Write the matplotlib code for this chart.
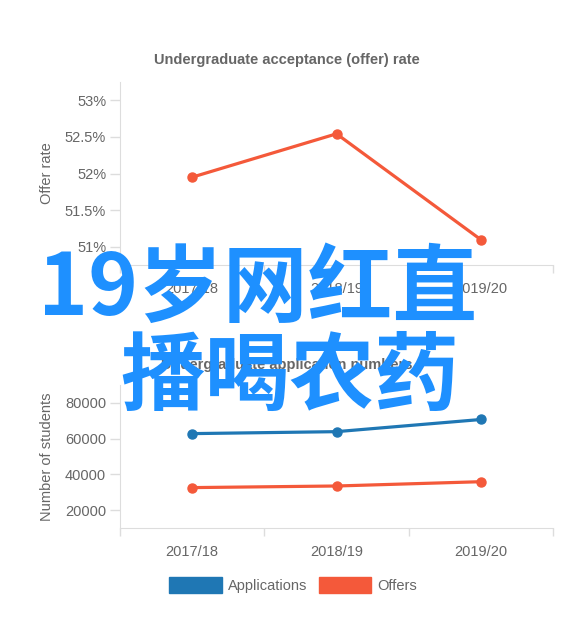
import matplotlib
matplotlib.use("Agg")
import matplotlib.pyplot as plt
from matplotlib.patches import Patch

years = ["2017/18", "2018/19", "2019/20"]
offer_rate = [51.95, 52.54, 51.10]
rate_ticks = [51, 51.5, 52, 52.5, 53]
rate_tick_labels = ["51%", "51.5%", "52%", "52.5%", "53%"]
applications = [62800, 63900, 70700]
offers = [32600, 33500, 35900]
num_ticks = [20000, 40000, 60000, 80000]

BLUE = "#1f77b4"
RED = "#f4593a"
GRAY = "#666666"
AXC = "#dddddd"
FONT = ["Liberation Sans", "DejaVu Sans"]
FS = 10.5

plt.rcParams["font.family"] = FONT

W, H = 580, 635
fig = plt.figure(figsize=(W / 100, H / 100), dpi=100)


def px_axes(x0, y0, x1, y1):
    return fig.add_axes([x0 / W, 1 - y1 / H, (x1 - x0) / W, (y1 - y0) / H])


def style(ax):
    for s in ["top", "right"]:
        ax.spines[s].set_visible(False)
    ax.spines["left"].set_color(AXC)
    ax.spines["bottom"].set_color(AXC)
    ax.tick_params(axis="y", colors=AXC, labelcolor=GRAY, labelsize=FS, length=7, width=1, pad=3)
    ax.tick_params(axis="x", which="major", length=0, labelcolor=GRAY, labelsize=FS, pad=12)
    ax.tick_params(axis="x", which="minor", colors=AXC, length=6, width=1)
    x = range(len(years))
    ax.set_xlim(-0.5, len(years) - 0.5)
    ax.set_xticks(list(x))
    ax.set_xticklabels(years)
    ax.set_xticks([i - 0.5 for i in range(len(years) + 1)], minor=True)


# Top chart
ax1 = px_axes(120, 82, 553, 265)
style(ax1)
ax1.plot(range(len(years)), offer_rate, color=RED, lw=2.3, marker="o", ms=6.5)
ax1.set_ylim(50.755, 53.245)
ax1.set_yticks(rate_ticks)
ax1.set_yticklabels(rate_tick_labels)
ax1.set_ylabel("Offer rate", color=GRAY, fontsize=FS, labelpad=8)
fig.text(0.495, 1 - 60 / H, "Undergraduate acceptance (offer) rate", ha="center", va="center",
         fontsize=FS, fontweight="bold", color=GRAY)

# Bottom chart
ax2 = px_axes(120, 385, 553, 528)
style(ax2)
ax2.plot(range(len(years)), applications, color=BLUE, lw=2.3, marker="o", ms=6.5)
ax2.plot(range(len(years)), offers, color=RED, lw=2.3, marker="o", ms=6.5)
ax2.set_ylim(10000, 90000)
ax2.set_yticks(num_ticks)
ax2.set_yticklabels([str(v) for v in num_ticks])
ax2.set_ylabel("Number of students", color=GRAY, fontsize=FS, labelpad=8)
fig.text(0.495, 1 - 365 / H, "Undergraduate application numbers", ha="center", va="center",
         fontsize=FS, fontweight="bold", color=GRAY)

handles = [Patch(facecolor=BLUE, edgecolor=BLUE, label="Applications"),
           Patch(facecolor=RED, edgecolor=RED, label="Offers")]
fig.legend(handles=handles, loc="center", bbox_to_anchor=(293 / W, 1 - 585 / H), ncol=2,
           frameon=False, fontsize=FS, labelcolor=GRAY, handlelength=3.6, handleheight=1.25,
           handletextpad=0.4, columnspacing=0.8)

# Overlay text
WM = "#1e90ff"
fig.text(38 / W, 1 - 290 / H, "19岁网红直", ha="left", va="center", fontsize=61,
         fontweight="bold", color=WM, family=["Noto Sans CJK SC", "DejaVu Sans"])
fig.text(120 / W, 1 - 378 / H, "播喝农药", ha="left", va="center", fontsize=61,
         fontweight="bold", color=WM, family=["Noto Sans CJK SC", "DejaVu Sans"])

fig.savefig("out.png", dpi=100, facecolor="white")
